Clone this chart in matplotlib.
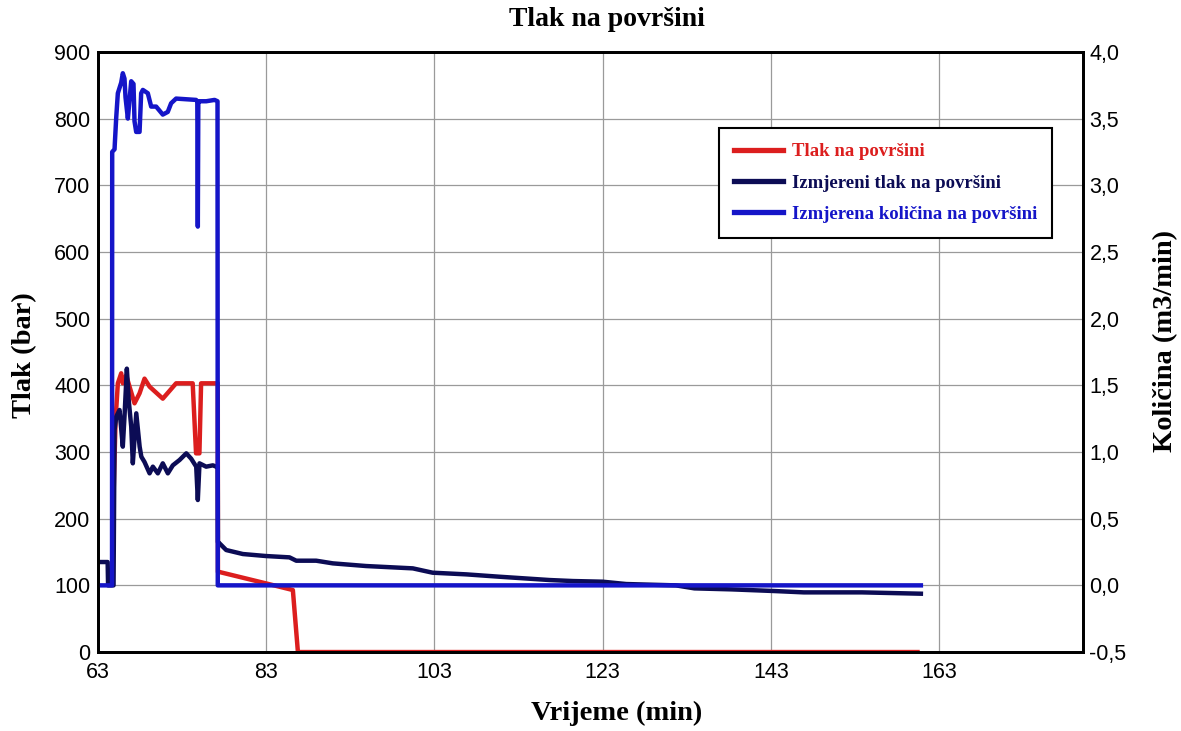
"""
Surface pressure / flow chart: pressure on the left axis, flow rate on the right axis.
"""

import matplotlib
matplotlib.use('Agg')
import matplotlib.pyplot as plt
from matplotlib.ticker import FuncFormatter, MultipleLocator

# Colours
RED   = '#dc1e1e'
NAVY  = '#0c0c55'
BLUE  = '#1515c8'
GRID  = '#9a9a9a'

SERIF = ['Liberation Serif', 'DejaVu Serif']
SANS  = ['Liberation Sans', 'DejaVu Sans']

# Tlak na površini (bar)
t_red = [64.85, 65.14, 65.41, 65.81, 66.0, 66.4, 66.8, 67.39, 67.99, 68.58, 69.18,
         70.75, 72.33, 74.3, 74.7, 75.1, 75.3, 76.9, 77.28, 77.3, 77.49, 83.0,
         86.2, 86.8, 160.4]
p_red = [210, 348, 403, 418, 403, 415, 398, 373, 388, 410, 398,
         380, 403, 403, 298, 298, 403, 403, 403, 120, 120, 103,
         93, 0, 0]

# Izmjereni tlak na površini (bar)
t_navy = [63.0, 64.2, 64.25, 64.9, 65.02, 65.22, 65.61, 66.0, 66.2, 66.48, 66.7,
          67.0, 67.19, 67.6, 68.0, 68.2, 68.58, 69.18, 69.57, 70.16, 70.75,
          71.35, 71.94, 72.74, 73.54, 74.12, 74.72, 74.91, 75.11, 75.9, 76.7,
          77.09, 77.28, 77.3, 77.49, 78.28, 80.26, 83.0, 85.8, 86.6, 88.97,
          90.95, 94.9, 100.45, 102.8, 106.8, 110.7, 116.7, 119.45, 123.0,
          125.8, 131.7, 133.9, 138.3, 143.4, 146.9, 153.8, 160.8]
p_navy = [135, 135, 100, 100, 333, 353, 363, 308, 353, 425, 378,
          338, 283, 358, 308, 293, 285, 268, 278, 268, 283,
          268, 280, 288, 298, 290, 278, 228, 283, 278, 280,
          278, 278, 165, 163, 153, 147, 144, 142, 137, 137,
          133, 129, 125.5, 119, 116.5, 113, 108, 106.5, 105.5,
          102, 100, 95.5, 94, 91.5, 89.5, 89.5, 87.5]

# Izmjerena količina na površini (m3/min)
t_blue = [63.0, 64.72, 64.74, 65.02, 65.05, 65.22, 65.41, 65.81, 66.0, 66.2,
          66.32, 66.6, 67.0, 67.27, 67.39, 67.59, 67.99, 68.18, 68.38, 68.97,
          69.37, 69.96, 70.75, 71.34, 71.74, 72.33, 73.51, 74.7, 74.85, 74.91,
          74.97, 75.11, 75.91, 76.9, 77.25, 77.28, 160.8]
q_blue = [0.0, 0.0, 3.25, 3.27, 3.31, 3.51, 3.69, 3.77, 3.84, 3.80,
          3.66, 3.50, 3.78, 3.76, 3.48, 3.40, 3.40, 3.69, 3.715, 3.69,
          3.59, 3.59, 3.53, 3.55, 3.615, 3.65, 3.645, 3.64, 3.63, 2.69,
          3.63, 3.63, 3.63, 3.64, 3.63, 0.0, 0.0]

x_ticks = [63, 83, 103, 123, 143, 163]


def comma_fmt(v, pos):
    return f'{v:.1f}'.replace('.', ',')


def generate_plot():
    fig = plt.figure(figsize=(11.81, 7.31), dpi=100, facecolor='white')
    ax = fig.add_axes([0.0826, 0.108, 0.834, 0.821])
    ax2 = ax.twinx()

    l_red, = ax.plot(t_red, p_red, color=RED, lw=3.2, label='Tlak na površini')
    l_navy, = ax.plot(t_navy, p_navy, color=NAVY, lw=3.2, label='Izmjereni tlak na površini')
    l_blue, = ax2.plot(t_blue, q_blue, color=BLUE, lw=3.2, label='Izmjerena količina na površini')

    ax.set_xlim(63, 180)
    ax.set_ylim(0, 900)
    ax2.set_ylim(-0.5, 4.0)
    ax.set_xticks(x_ticks)
    ax.yaxis.set_major_locator(MultipleLocator(100))
    ax2.yaxis.set_major_locator(MultipleLocator(0.5))
    ax2.yaxis.set_major_formatter(FuncFormatter(comma_fmt))

    ax.grid(True, color=GRID, lw=0.9)
    ax.set_axisbelow(True)
    for a in (ax, ax2):
        for sp in a.spines.values():
            sp.set_color('black')
            sp.set_linewidth(2.0)
        a.tick_params(axis='y', length=0, labelsize=15.5, pad=5)
        a.tick_params(axis='x', length=0, labelsize=15.5, pad=7)
        for lab in a.get_xticklabels() + a.get_yticklabels():
            lab.set_family(SANS)

    leg = ax2.legend(handles=[l_red, l_navy, l_blue], loc='upper left',
                     bbox_to_anchor=(0.6215, 0.8885), fancybox=False,
                     edgecolor='black', framealpha=1, labelcolor='linecolor',
                     prop={'family': SERIF, 'weight': 'bold', 'size': 13.5},
                     handlelength=2.6, handletextpad=0.5, borderpad=0.8,
                     labelspacing=0.75)
    leg.get_frame().set_linewidth(1.5)
    for h in leg.get_lines():
        h.set_linewidth(3.8)

    fig.text(0.514, 0.974, 'Tlak na površini', ha='center', va='center',
             family=SERIF, weight='bold', size=20)
    fig.text(0.522, 0.024, 'Vrijeme (min)', ha='center', va='center',
             family=SERIF, weight='bold', size=20.5)
    fig.text(0.021, 0.514, 'Tlak (bar)', ha='center', va='center', rotation=90,
             family=SERIF, weight='bold', size=20.5)
    fig.text(0.987, 0.533, 'Količina (m3/min)', ha='center', va='center', rotation=90,
             family=SERIF, weight='bold', size=20.5)

    fig.savefig('out.png', dpi=100, facecolor='white')
    plt.close(fig)


if __name__ == '__main__':
    generate_plot()
